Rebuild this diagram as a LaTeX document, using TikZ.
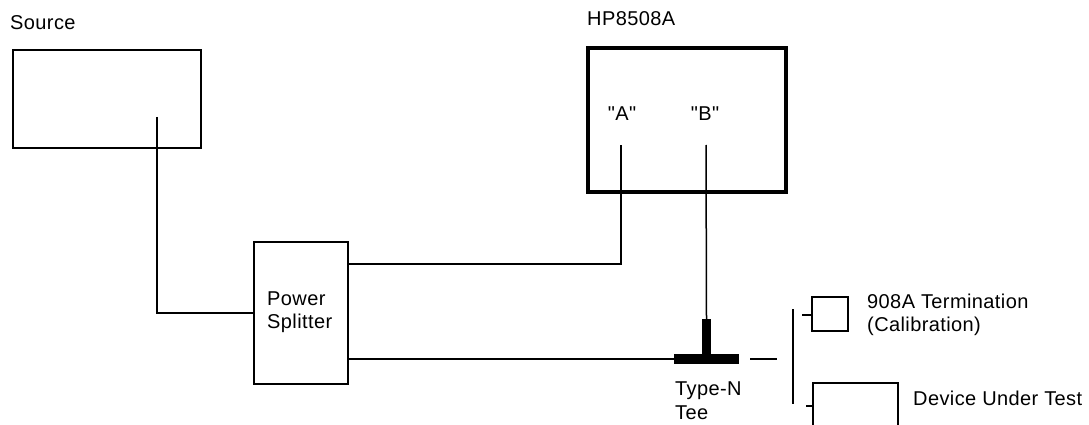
\documentclass[tikz,border=0pt]{standalone}
\usepackage{fontspec}
\setmainfont{Liberation Sans}[LetterSpace=2]
\newfontfamily\qfont{Liberation Sans}[LetterSpace=2]
\begin{document}
\begin{tikzpicture}[x=1pt,y=-1pt,
  lbl/.style={inner sep=0pt, anchor=base west, font=\fontsize{20}{23}\selectfont},
  box/.style={draw, line width=1.5pt, inner sep=0pt},
  wire/.style={line width=1.5pt},
  teepart/.style={fill, inner sep=0pt}]
\useasboundingbox (0,0) rectangle (1089,425);
% boxes
\node[box, minimum width=188pt, minimum height=98pt] (src) at (107,99) {};
\node[box, minimum width=94pt, minimum height=142pt] (spl) at (301,313) {};
\node[box, line width=3.5pt, minimum width=198pt, minimum height=144pt] (hp) at (687,120) {};
\node[box, minimum width=36pt, minimum height=34pt] (term) at (830,314) {};
\node[box, minimum width=85pt, minimum height=74pt] (dut) at (855.5,420) {};
\node[teepart, minimum width=9pt, minimum height=36pt] (teestem) at (706.5,337) {};
\node[teepart, minimum width=65pt, minimum height=10pt] (teebar) at (706.5,359) {};
% labels
\node[lbl] (lsrc) at (10,30) {Source};
\node[lbl] (lhp) at (587,26) {HP8508A};
\node[lbl, anchor=base] (la) at (622,121) {\qfont "A"};
\node[lbl, anchor=base] (lb) at (705,121) {\qfont "B"};
\node[lbl] (lpw) at (267,305) {Power};
\node[lbl] (lsp) at (267,328) {Splitter};
\node[lbl] (lty) at (675,395) {Type-N};
\node[lbl] (ltee) at (675,419) {Tee};
\node[lbl] (lterm) at (867,308) {908A Termination};
\node[lbl] (lcal) at (867,331) {(Calibration)};
\node[lbl] (ldut) at (913,405) {Device Under Test};
% coordinates
\coordinate (srcport) at (157,117);
\coordinate (splA) at (348,264);
\coordinate (portA) at (621,145);
\coordinate (splB) at (348,359);
\coordinate (portB) at (706,145);
\coordinate (dash1) at (750,359);
\coordinate (dash2) at (777,359);
\coordinate (br1) at (793,309);
\coordinate (br2) at (793,404);
\coordinate (stubT) at (802,315);
\coordinate (stubD) at (806,406);
% connectors
\draw[wire] (srcport) |- (spl.west);
\draw[wire] (splA) -| (portA);
\draw[wire] (splB) -- (teebar.west);
\draw[wire] (portB) -- (teestem.north);
\draw[wire] (dash1) -- (dash2);
\draw[wire] (br1) -- (br2);
\draw[wire] (stubT) -- (stubT -| term.west);
\draw[wire] (stubD) -- (stubD -| dut.west);
\end{tikzpicture}
\end{document}
